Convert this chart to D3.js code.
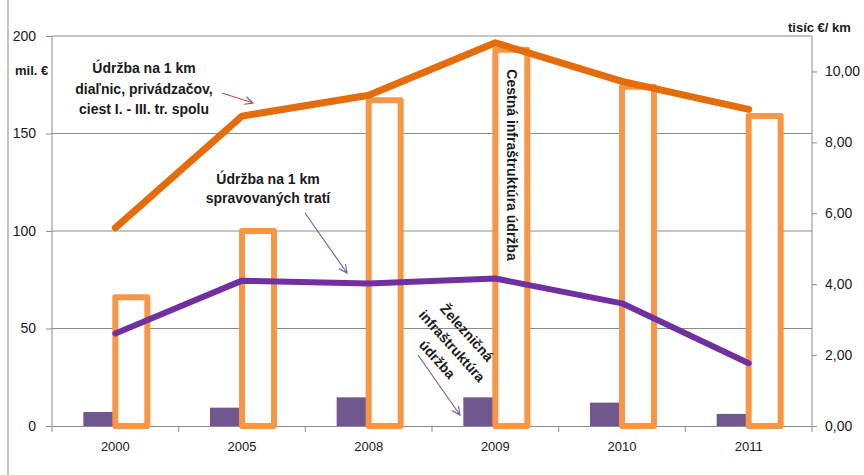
<!DOCTYPE html>
<html>
<head>
<meta charset="utf-8">
<script src="https://cdn.jsdelivr.net/npm/d3@7"></script>
<style>
  body { margin: 0; background: #fff; }
  svg text { font-family: "Liberation Sans", Arial, sans-serif; fill: #1a1a1a; }
</style>
</head>
<body>
<script>
const WIDTH = 864;
const HEIGHT = 475;

// categories
var years = ['2000', '2005', '2008', '2009', '2010', '2011'];
// mil. € (left axis) - bars
var railMaint = [7.2, 9.4, 14.7, 14.7, 12.0, 6.2];
var roadMaint = [66, 100, 167, 193, 174, 159];
// tisíc € / km (right axis) - lines
var roadPerKm = [5.59, 8.74, 9.33, 10.81, 9.72, 8.93];
var railPerKm = [2.61, 4.10, 4.02, 4.16, 3.46, 1.77];
// axis ticks
var leftTicks = [0, 50, 100, 150, 200];
var rightTicks = [0, 2, 4, 6, 8, 10];

var svg = d3.select('body').append('svg')
    .attr('width', WIDTH)
    .attr('height', HEIGHT);

var plotL = 52, plotR = 812, plotT = 36, plotB = 426;

var x = d3.scaleBand().domain(years).range([plotL, plotR]);
var sub = d3.scaleBand().domain(['rail', 'road']).range([-32, 32]);
var yL = d3.scaleLinear().domain([0, 200]).range([plotB, plotT]);
var yR = d3.scaleLinear().domain([0, 11]).range([plotB, plotT]);

// chart frame (left edge only visible)
svg.append('line')
    .attr('x1', 8).attr('x2', 8).attr('y1', 0).attr('y2', HEIGHT)
    .attr('stroke', '#8a8a8a');

// gridlines
svg.append('g')
    .selectAll('line')
    .data(leftTicks.filter(function(d) { return d > 0; }))
    .enter().append('line')
    .attr('x1', plotL).attr('x2', plotR)
    .attr('y1', function(d) { return yL(d); })
    .attr('y2', function(d) { return yL(d); })
    .attr('stroke', '#8c8c8c');

// left axis
var axL = svg.append('g')
    .attr('transform', 'translate(' + plotL + ',0)')
    .call(d3.axisLeft(yL).tickValues(leftTicks).tickSize(6).tickPadding(10));
// right axis
var axR = svg.append('g')
    .attr('transform', 'translate(' + plotR + ',0)')
    .call(d3.axisRight(yR).tickValues(rightTicks).tickSize(5).tickPadding(8)
        .tickFormat(function(d) { return d3.format('.2f')(d).replace('.', ','); }));
// x axis
var axX = svg.append('g')
    .attr('transform', 'translate(0,' + plotB + ')')
    .call(d3.axisBottom(x).tickSize(0).tickPadding(16));
svg.append('g')
    .attr('transform', 'translate(0,' + plotB + ')')
    .selectAll('line')
    .data(years.concat(['end']))
    .enter().append('line')
    .attr('x1', function(d) { return d === 'end' ? plotR : x(d); })
    .attr('x2', function(d) { return d === 'end' ? plotR : x(d); })
    .attr('y1', 0).attr('y2', 6)
    .attr('stroke', '#8c8c8c');

[axL, axR, axX].forEach(function(ax) {
    ax.select('.domain').attr('stroke', '#8c8c8c');
    ax.selectAll('.tick line').attr('stroke', '#8c8c8c');
    ax.selectAll('.tick text')
        .style('font-family', '"Liberation Sans", Arial, sans-serif')
        .attr('font-size', 13).attr('fill', '#1a1a1a');
});
axL.select('.domain').attr('d', 'M0,' + plotT + 'V' + plotB);
axR.select('.domain').attr('d', 'M0,' + plotT + 'V' + plotB);
axR.selectAll('.tick text').attr('font-size', 14);
axL.selectAll('.tick text').attr('font-size', 14);

// bars
svg.append('g').selectAll('rect')
    .data(railMaint)
    .enter().append('rect')
    .attr('x', function(d, i) { return x(years[i]) + x.bandwidth() / 2 + sub('rail'); })
    .attr('y', function(d) { return yL(d); })
    .attr('width', sub.bandwidth())
    .attr('height', function(d) { return plotB - yL(d); })
    .attr('fill', '#70588f');

svg.append('g').selectAll('rect')
    .data(roadMaint)
    .enter().append('rect')
    .attr('x', function(d, i) { return x(years[i]) + x.bandwidth() / 2 + sub('road'); })
    .attr('y', function(d) { return yL(d); })
    .attr('width', sub.bandwidth())
    .attr('height', function(d) { return plotB - yL(d); })
    .attr('fill', '#fff')
    .attr('stroke', '#f79646')
    .attr('stroke-width', 6)
    .attr('stroke-linejoin', 'round');

// lines
var lineR = d3.line()
    .x(function(d, i) { return x(years[i]) + x.bandwidth() / 2; })
    .y(function(d) { return yR(d); });

svg.append('path')
    .datum(roadPerKm)
    .attr('d', lineR)
    .attr('fill', 'none')
    .attr('stroke', '#e46c0a')
    .attr('stroke-width', 7)
    .attr('stroke-linejoin', 'round')
    .attr('stroke-linecap', 'round');

svg.append('path')
    .datum(railPerKm)
    .attr('d', lineR)
    .attr('fill', 'none')
    .attr('stroke', '#7030a0')
    .attr('stroke-width', 6)
    .attr('stroke-linejoin', 'round')
    .attr('stroke-linecap', 'round');

// axis titles
svg.append('text').attr('x', 15).attr('y', 75)
    .attr('font-size', 13).attr('font-weight', 'bold').text('mil. €');
svg.append('text').attr('x', 788).attr('y', 32)
    .attr('font-size', 13).attr('font-weight', 'bold').text('tisíc €/ km');

// annotations
var addBlock = function(lines, cx, cy, angle, lh) {
    var g = svg.append('g')
        .attr('transform', 'translate(' + cx + ',' + cy + ') rotate(' + angle + ')');
    lines.forEach(function(t, i) {
        g.append('text')
            .attr('x', 0)
            .attr('y', (i - (lines.length - 1) / 2) * lh)
            .attr('dy', '0.35em')
            .attr('text-anchor', 'middle')
            .attr('font-size', 14)
            .attr('font-weight', 'bold')
            .text(t);
    });
};

var arrow = function(x1, y1, x2, y2, color) {
    var a = Math.atan2(y2 - y1, x2 - x1);
    var h = 9, w = 0.45;
    svg.append('path')
        .attr('d', 'M' + x1 + ',' + y1 + 'L' + x2 + ',' + y2 +
            'M' + (x2 - h * Math.cos(a - w)) + ',' + (y2 - h * Math.sin(a - w)) +
            'L' + x2 + ',' + y2 +
            'L' + (x2 - h * Math.cos(a + w)) + ',' + (y2 - h * Math.sin(a + w)))
        .attr('fill', 'none')
        .attr('stroke', color)
        .attr('stroke-width', 1.2);
};

addBlock(['Údržba na 1 km', 'diaľnic,  privádzačov,', 'ciest I. - III. tr. spolu'], 144, 89, 0, 20.5);
arrow(222, 93, 253, 103, '#c0504d');

addBlock(['Údržba na 1 km', 'spravovaných  tratí'], 268, 189, 0, 19);
arrow(305, 213, 347, 273, '#8064a2');

addBlock(['Cestná infraštruktúra  údržba'], 512, 165, 90, 0);

addBlock(['Železničná', 'infraštruktúra', 'údržba'], 452, 346, 48, 20);
arrow(418, 355, 460, 415, '#8064a2');
</script>
</body>
</html>
